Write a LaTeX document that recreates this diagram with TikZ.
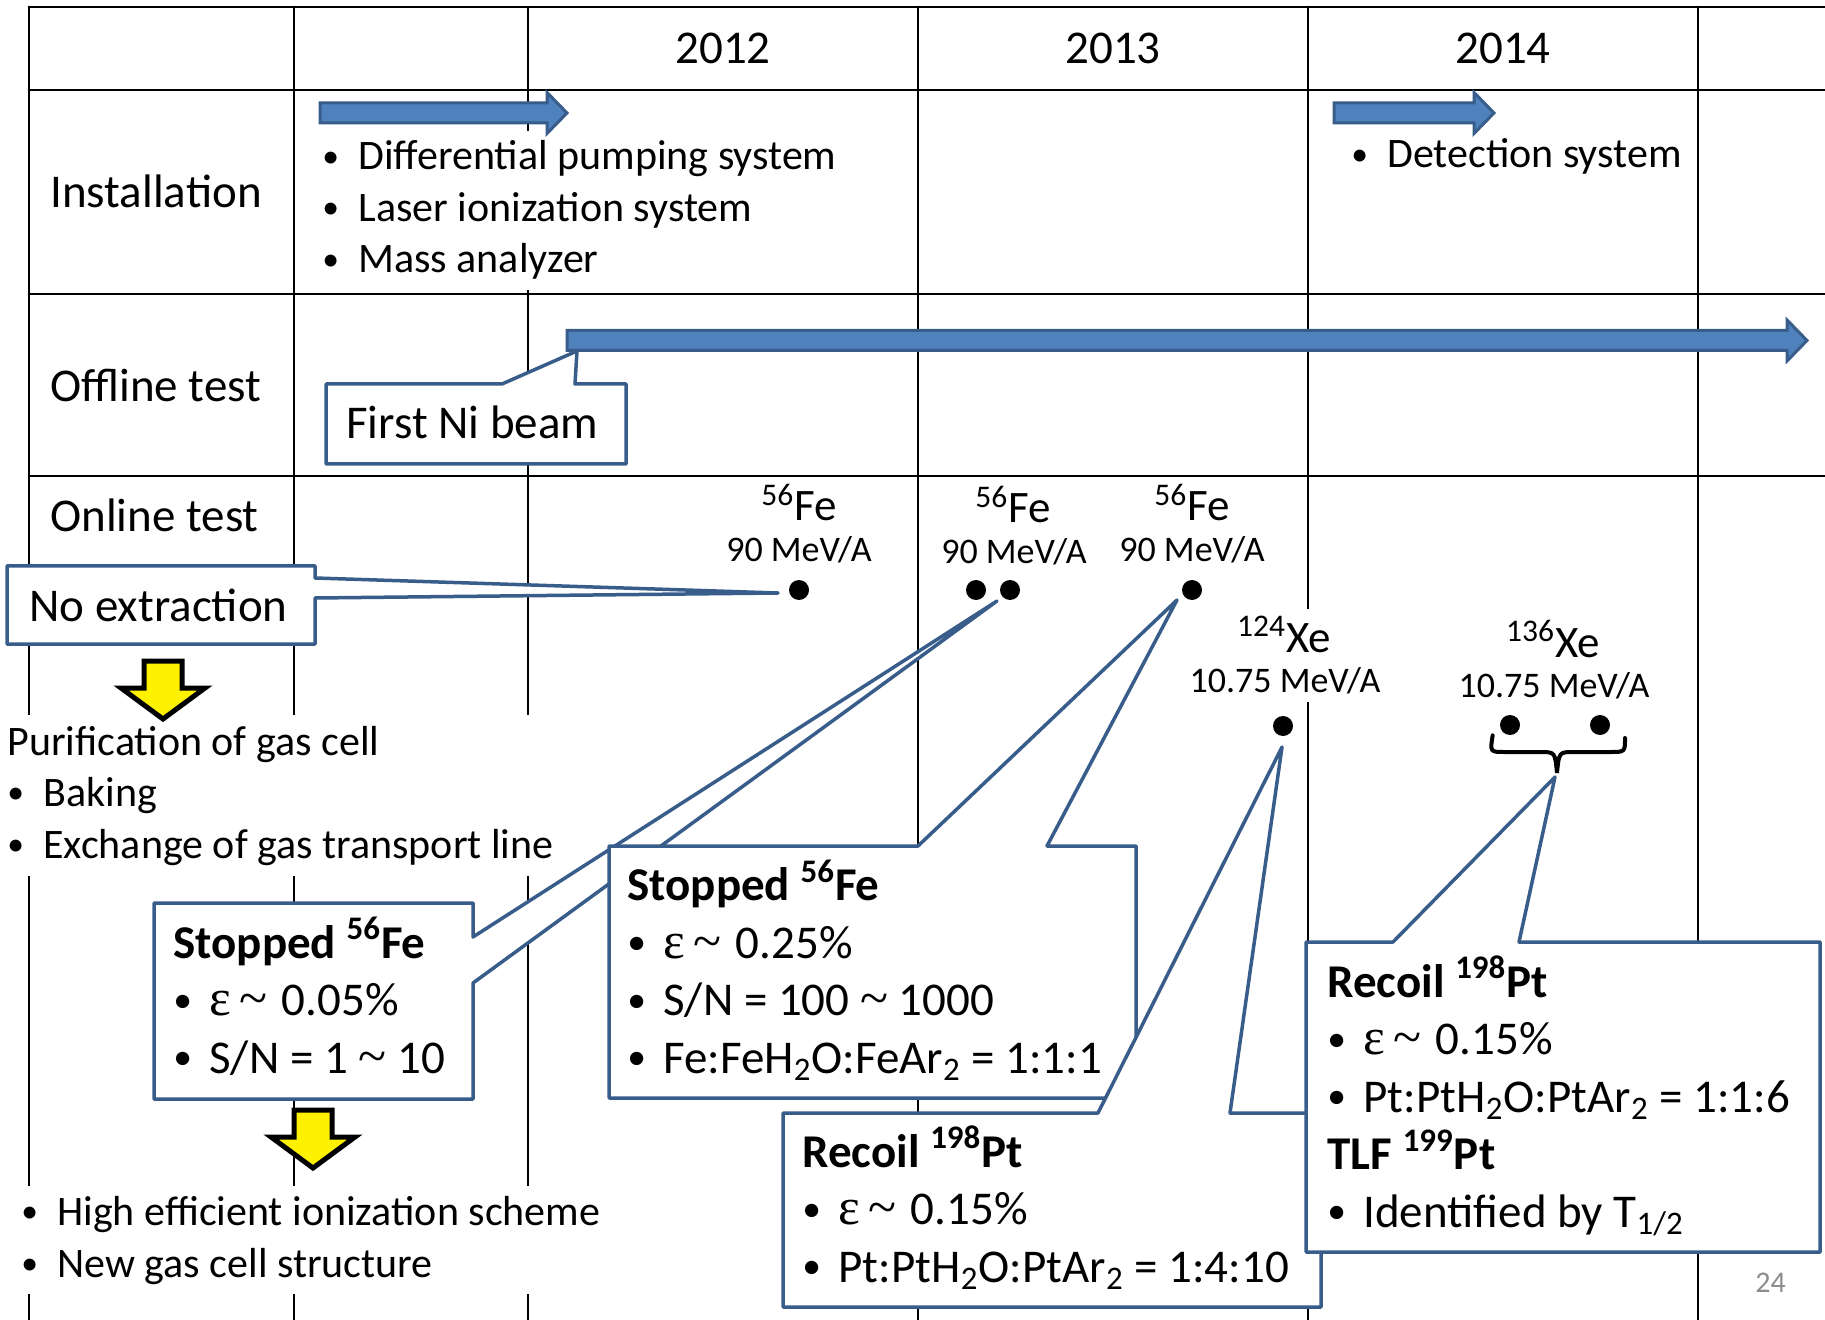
\documentclass[tikz,border=0pt]{standalone}
\usepackage{graphicx}
\usepackage{fontspec}
\setmainfont{Carlito}
\newfontfamily\symfont[Scale=1.1]{Liberation Serif}
\definecolor{barblue}{HTML}{4F81BD}
\definecolor{lineblue}{HTML}{385D8A}
\definecolor{pagegray}{HTML}{8C8C8C}
\newcommand{\itm}{\makebox[18pt][l]{\raisebox{0.07em}{\scalebox{0.8}{•}}}}
\newcommand{\epsto}{{\symfont ε\kern4pt\textasciitilde\kern2pt}}
\newcommand{\tld}{{\symfont\textasciitilde}}
\tikzset{
  gridline/.style={line width=1.4pt},
  bigtext/.style={font={\fontsize{23.5}{28.75}\selectfont}},
  smalltext/.style={font={\fontsize{21}{25.75}\selectfont}},
  txt/.style={inner sep=0pt,anchor=base west,align=left},
  beam/.style={draw=lineblue,fill=barblue,line width=1.5pt,line join=miter},
  downarrow/.style={draw=black,fill=yellow,line width=2.5pt,line join=miter},
  callout/.style={draw=lineblue,fill=white,line width=1.75pt,line join=round},
  dot/.style={circle,fill=black,inner sep=0pt,minimum size=10pt},
  ion/.style={inner sep=0pt,anchor=base,font={\fontsize{22.5}{27}\selectfont}},
  energy/.style={inner sep=0pt,anchor=base,font={\fontsize{18}{22}\selectfont}},
}
\begin{document}
\begin{tikzpicture}[x=0.5pt,y=-0.5pt,line cap=round]
\useasboundingbox (0,0) rectangle (1825,1320);
% table grid
\foreach \gx in {29,294,528,918,1308,1698} \draw[gridline] (\gx,7) -- (\gx,1320);
\foreach \gy in {7,90,294,476} \draw[gridline] (29,\gy) -- (1825,\gy);
\foreach \yr/\gx in {2012/723,2013/1113,2014/1503}
  \node[bigtext,inner sep=0pt,anchor=base] (y\yr) at (\gx,64) {\yr};
\node[txt,bigtext] (install) at (50,208) {Installation};
\node[txt,bigtext] (offline) at (50,402) {Offline test};
\node[txt,bigtext] (online) at (50,531) {Online test};

% installation items (multi-line nodes sit on their last baseline)
\node[txt,smalltext,fill=white,inner ysep=5pt] (parts) at (322,273)
  {\itm Differential pumping system\\ \itm Laser ionization system\\ \itm Mass analyzer};
\node[txt,smalltext,fill=white,inner ysep=5pt] (detect) at (1351,168) {\itm Detection system};

% offline test
\coordinate (nitip) at (577,351);
\filldraw[callout] (326,384) -- (502,384) -- (nitip) -- (575,384) -- (626,384) -- (626,464) -- (326,464) -- cycle;
\node[txt,bigtext] (nibeam) at (346,439) {First Ni beam};

% period bars
\foreach \xa/\xb/\yc in {320/567/113,1334/1494/113,567/1807/340.5}
  \filldraw[beam] (\xa,\yc-10) -- (\xb-20,\yc-10) -- (\xb-20,\yc-20.5) -- (\xb,\yc)
    -- (\xb-20,\yc+20.5) -- (\xb-20,\yc+10) -- (\xa,\yc+10) -- cycle;

% online test runs
\node[ion] (fe1name) at (799,521) {\textsuperscript{56}Fe};
\node[energy] (fe1e) at (799,561) {90 MeV/A};
\node[ion] (fe2name) at (1013,523) {\textsuperscript{56}Fe};
\node[energy] (fe2e) at (1014,564) {90 MeV/A};
\node[ion] (fe3name) at (1192,521) {\textsuperscript{56}Fe};
\node[energy] (fe3e) at (1192,561) {90 MeV/A};
\node[ion,fill=white,inner ysep=4pt] (xe1name) at (1284,652) {\textsuperscript{124}Xe};
\node[energy,fill=white,inner ysep=4pt] (xe1e) at (1285,692) {10.75 MeV/A};
\node[ion] (xe2name) at (1553,657) {\textsuperscript{136}Xe};
\node[energy] (xe2e) at (1554,697) {10.75 MeV/A};
\node[dot] (fe1) at (799,590) {};
\node[dot] (fe2a) at (976,590) {};
\node[dot] (fe2b) at (1010,590) {};
\node[dot] (fe3) at (1192,590) {};
\node[dot] (xe1) at (1283,726) {};
\node[dot] (xe2a) at (1510,725) {};
\node[dot] (xe2b) at (1600,725) {};

\coordinate (fe1tip) at (778,593);
\coordinate (fe2tip) at (997,601);
\coordinate (fe3tip) at (1177,600);
\coordinate (xe1tip) at (1282,747);
\coordinate (xe2tip) at (1555,777);

\filldraw[callout] (7,566) -- (315,566) -- (315,578) -- (fe1tip) -- (315,598) -- (315,644) -- (7,644) -- cycle;
\node[txt,bigtext] (noext) at (29,621) {No extraction};

% improvements
\node[txt,smalltext,fill=white,inner ysep=5.5pt] (purify) at (7,858)
  {Purification of gas cell\\ \itm Baking\\ \itm Exchange of gas transport line};
\node[txt,smalltext,fill=white,inner ysep=5pt] (improve) at (21,1277)
  {\itm High efficient ionization scheme\\ \itm New gas cell structure};
\foreach \xc/\yt in {163/661,313/1110}
  \filldraw[downarrow] (\xc-19,\yt) -- (\xc+19,\yt) -- (\xc+19,\yt+27) -- (\xc+42,\yt+27)
    -- (\xc,\yt+58) -- (\xc-42,\yt+27) -- (\xc-19,\yt+27) -- cycle;

% results
\filldraw[callout] (154,903) -- (473,903) -- (473,937) -- (fe2tip) -- (473,983) -- (473,1099) -- (154,1099) -- cycle;
\node[txt,bigtext] (stopA) at (173,1073)
  {\textbf{Stopped \textsuperscript{56}Fe}\\ \itm\epsto{} 0.05\%\\ \itm S/N = 1 \tld{} 10};

\filldraw[callout] (609,846) -- (918,846) -- (fe3tip) -- (1047,846) -- (1136,846) -- (1136,1098) -- (609,1098) -- cycle;
\node[txt,bigtext] (stopB) at (627,1073)
  {\textbf{Stopped \textsuperscript{56}Fe}\\ \itm\epsto{} 0.25\%\\ \itm S/N = 100 \tld{} 1000\\
   \itm Fe:FeH\textsubscript{2}O:FeAr\textsubscript{2} = 1:1:1};

\filldraw[callout] (783,1113) -- (1098,1113) -- (xe1tip) -- (1230,1113) -- (1321,1113) -- (1321,1307) -- (783,1307) -- cycle;
\node[txt,bigtext] (recoilA) at (802,1282)
  {\textbf{Recoil \textsuperscript{198}Pt}\\ \itm\epsto{} 0.15\%\\
   \itm Pt:PtH\textsubscript{2}O:PtAr\textsubscript{2} = 1:4:10};

\filldraw[callout] (1306,942) -- (1393,942) -- (xe2tip) -- (1519,942) -- (1820,942) -- (1820,1252) -- (1306,1252) -- cycle;
\node[txt,bigtext] (recoilB) at (1327,1227)
  {\textbf{Recoil \textsuperscript{198}Pt}\\ \itm\epsto{} 0.15\%\\
   \itm Pt:PtH\textsubscript{2}O:PtAr\textsubscript{2} = 1:1:6\\
   \textbf{TLF \textsuperscript{199}Pt}\\ \itm Identified by T\textsubscript{1/2}};

% brace under the two Xe runs
\draw[line width=2pt] (xe2a.south west) ++(-10,3) coordinate (brl)
  (brl) .. controls (1490,752) .. (1505,752) -- (1540,752) .. controls (1555,752) .. (1557,773)
  .. controls (1559,752) .. (1574,752) -- (1610,752) .. controls (1625,752) .. (1625,738);

\node[txt,font={\fontsize{15}{18}\selectfont},text=pagegray] (page) at (1755,1292) {24};
\end{tikzpicture}
\end{document}
